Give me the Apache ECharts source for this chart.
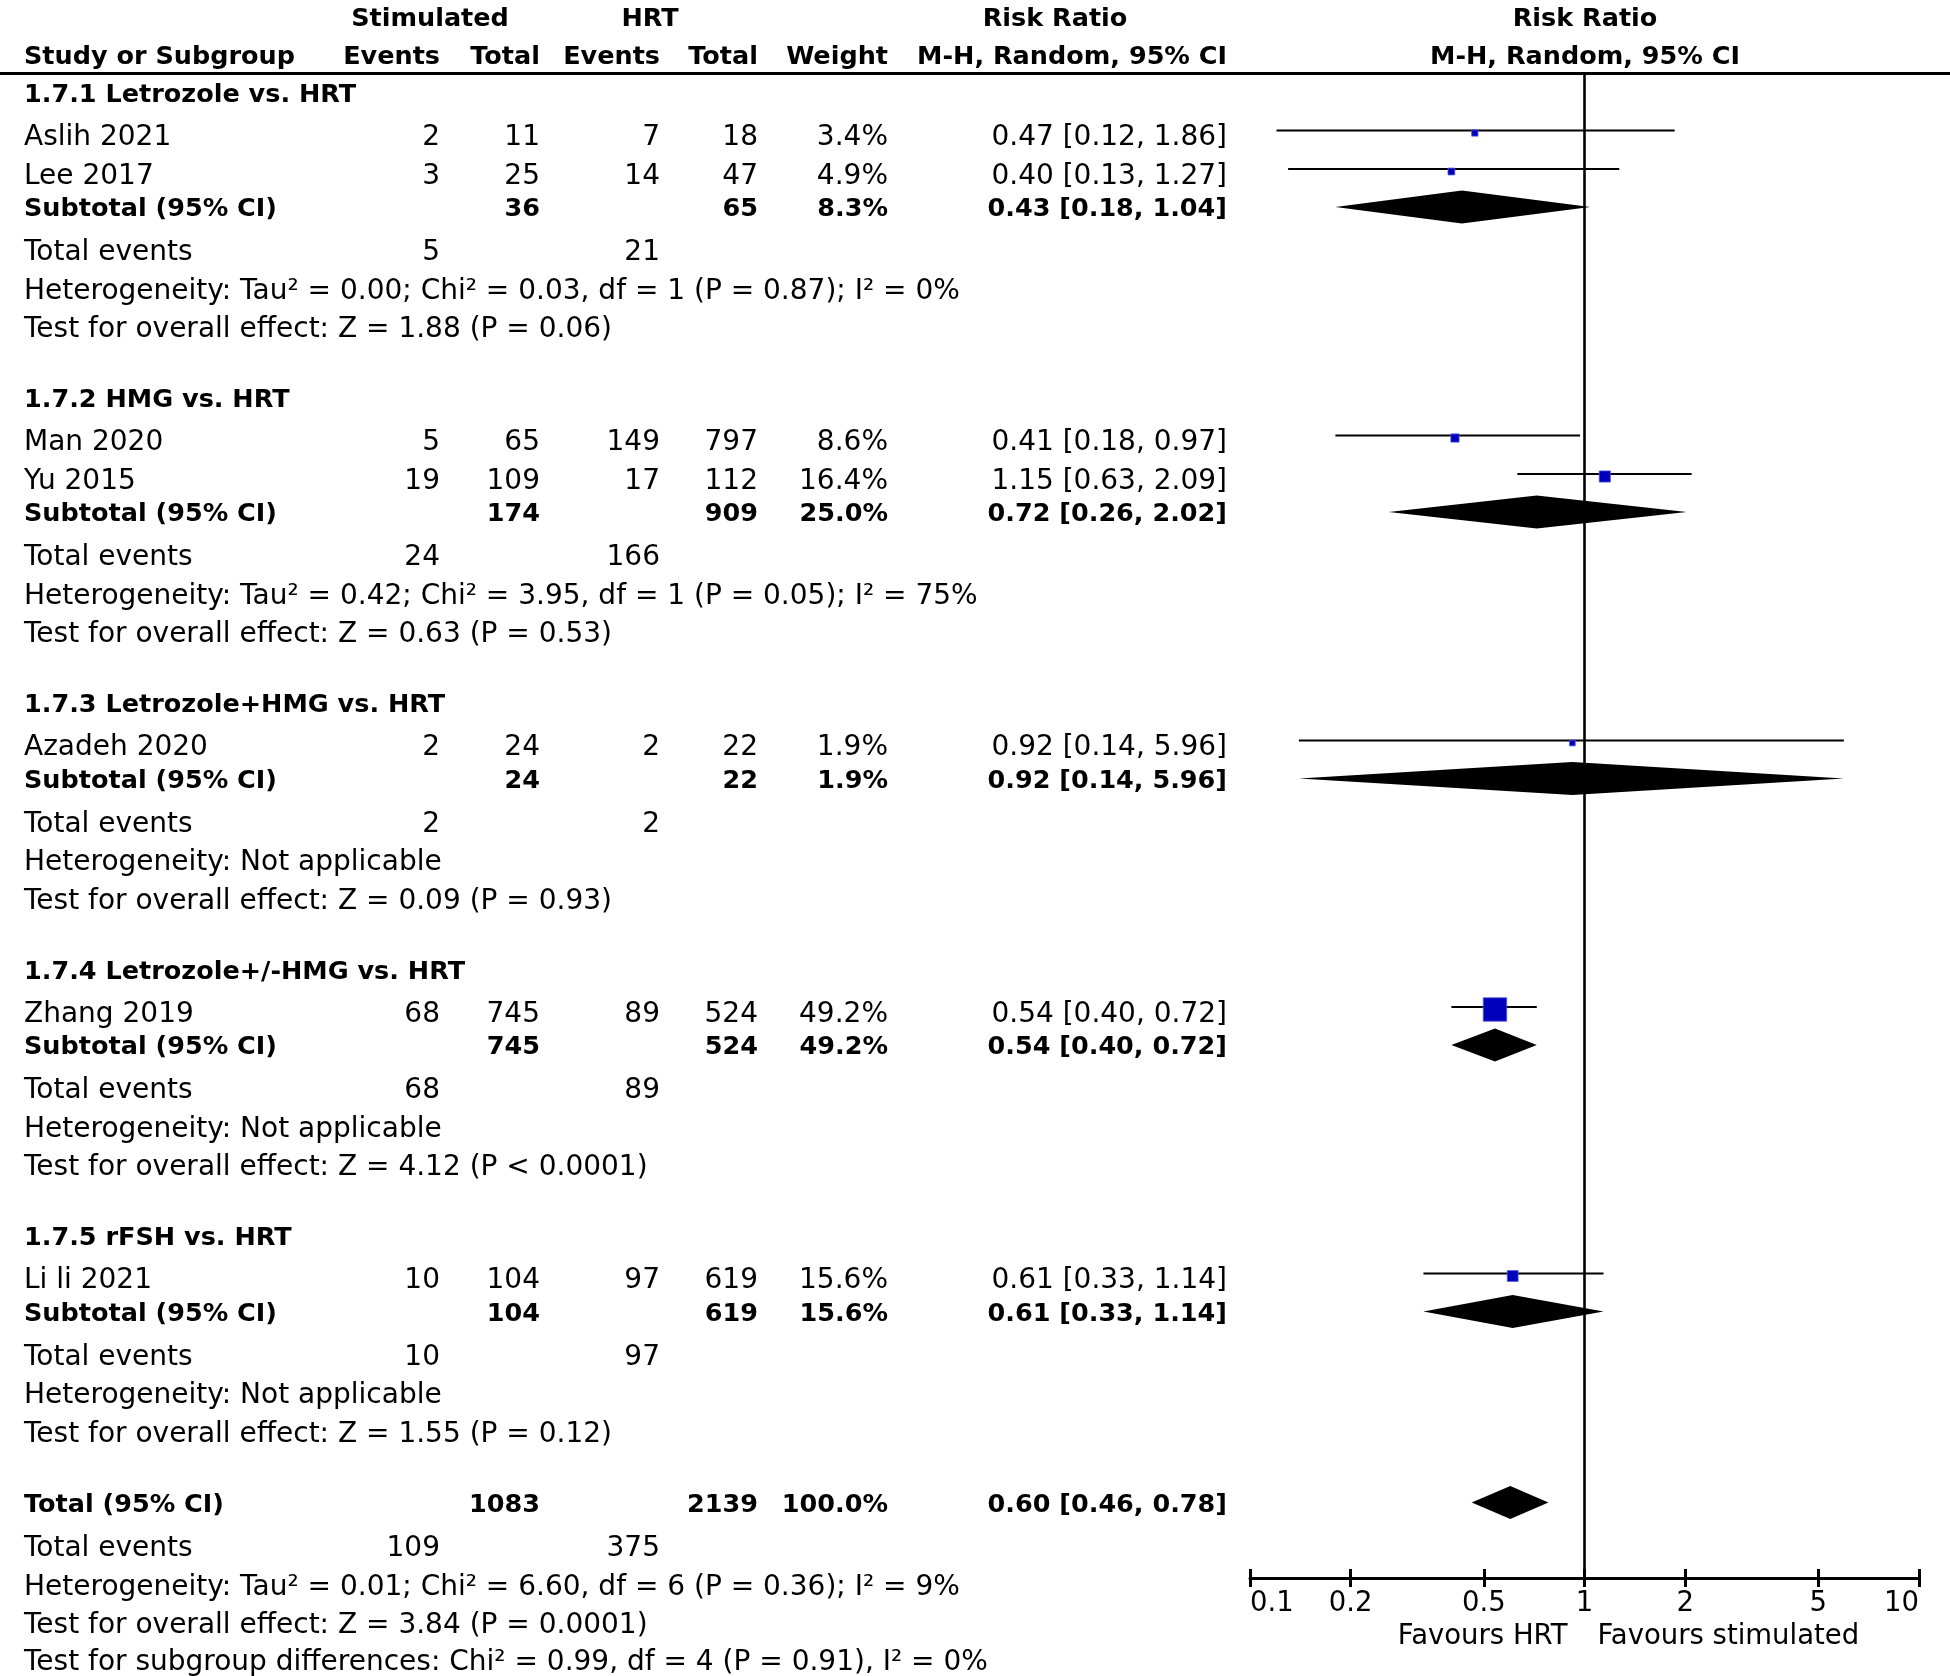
<!DOCTYPE html>
<html><head><meta charset="utf-8">
<script src="https://cdn.jsdelivr.net/npm/echarts@6/dist/echarts.min.js"></script>
<style>html,body{margin:0;padding:0;background:#fff}#c{width:1950px;height:1676px}</style>
</head><body><div id="c"></div>
<script>
// ---------------- DATA ----------------
const groupLabels = ['1.7.1 Letrozole vs. HRT', '1.7.2 HMG vs. HRT', '1.7.3 Letrozole+HMG vs. HRT', '1.7.4 Letrozole+/-HMG vs. HRT', '1.7.5 rFSH vs. HRT'];
const studyNames = ['Aslih 2021', 'Lee 2017', 'Man 2020', 'Yu 2015', 'Azadeh 2020', 'Zhang 2019', 'Li li 2021'];
const studyGroup = [0, 0, 1, 1, 2, 3, 4];
const stimEvents = [2, 3, 5, 19, 2, 68, 10];
const stimTotal = [11, 25, 65, 109, 24, 745, 104];
const hrtEvents = [7, 14, 149, 17, 2, 89, 97];
const hrtTotal = [18, 47, 797, 112, 22, 524, 619];
const studyWeight = [3.4, 4.9, 8.6, 16.4, 1.9, 49.2, 15.6];
const studyRR = [0.47, 0.40, 0.41, 1.15, 0.92, 0.54, 0.61];
const studyLow = [0.12, 0.13, 0.18, 0.63, 0.14, 0.40, 0.33];
const studyHigh = [1.86, 1.27, 0.97, 2.09, 5.96, 0.72, 1.14];

const subStimTotal = [36, 174, 24, 745, 104];
const subHrtTotal = [65, 909, 22, 524, 619];
const subWeight = [8.3, 25.0, 1.9, 49.2, 15.6];
const subRR = [0.43, 0.72, 0.92, 0.54, 0.61];
const subLow = [0.18, 0.26, 0.14, 0.40, 0.33];
const subHigh = [1.04, 2.02, 5.96, 0.72, 1.14];
const subStimEvents = [5, 24, 2, 68, 10];
const subHrtEvents = [21, 166, 2, 89, 97];
const subHeterogeneity = [
  'Tau² = 0.00; Chi² = 0.03, df = 1 (P = 0.87); I² = 0%',
  'Tau² = 0.42; Chi² = 3.95, df = 1 (P = 0.05); I² = 75%',
  'Not applicable', 'Not applicable', 'Not applicable'];
const subOverall = ['Z = 1.88 (P = 0.06)', 'Z = 0.63 (P = 0.53)', 'Z = 0.09 (P = 0.93)', 'Z = 4.12 (P < 0.0001)', 'Z = 1.55 (P = 0.12)'];

const totalStim = 1083, totalHrt = 2139, totalWeight = 100.0;
const totalRR = 0.60, totalLow = 0.46, totalHigh = 0.78;
const totalStimEvents = 109, totalHrtEvents = 375;
const totalHeterogeneity = 'Tau² = 0.01; Chi² = 6.60, df = 6 (P = 0.36); I² = 9%';
const totalOverall = 'Z = 3.84 (P = 0.0001)';
const subgroupDiff = 'Chi² = 0.99, df = 4 (P = 0.91), I² = 0%';

const axisTickValues = [0.1, 0.2, 0.5, 1, 2, 5, 10];
const favourLeft = 'Favours HRT', favourRight = 'Favours stimulated';

// ---------------- LAYOUT ----------------
const W = 1950, H = 1676;
const FONT = '"DejaVu Sans", sans-serif';
const FS = 28, FSB = 25.5, FST = 27.5;
const TEXT_DY = 2.5;       // text visual offset vs. row line
const CI_DY = -5;          // CI line offset vs. row line
const SQ_DY = -2.5;        // square offset vs. row line
const COL = { name: 24, se: 440, st: 540, he: 660, ht: 758, w: 888, rr: 1227 };
const HDR = { y1: 17, y2: 55, stim: 430, hrt: 650, rr1: 1055, rr2: 1585 };
const RULE_Y = 73.5;
const PLOT_L = 1250, PLOT_R = 1919, AXIS_Y = 1578;
const GAP = { headerFirst: 93, headerToStudy: 42.5, study: 38.5, toSub: 33, subToEvents: 43.5, line: 38.5, nextGroup: 70.5, totalToEvents: 44, last: 37 };

const texts = [];
const studyMarks = [];
const diamonds = [];
function T(x, y, text, align, bold) { texts.push({ x, y, text: String(text), align, bold: !!bold }); }
const pct = v => v.toFixed(1) + '%';
const ci = (r, l, h) => r.toFixed(2) + ' [' + l.toFixed(2) + ', ' + h.toFixed(2) + ']';

// header
T(HDR.stim, HDR.y1, 'Stimulated', 'center', true);
T(HDR.hrt, HDR.y1, 'HRT', 'center', true);
T(HDR.rr1, HDR.y1, 'Risk Ratio', 'center', true);
T(HDR.rr2, HDR.y1, 'Risk Ratio', 'center', true);
T(COL.name, HDR.y2, 'Study or Subgroup', 'left', true);
T(COL.se, HDR.y2, 'Events', 'right', true);
T(COL.st, HDR.y2, 'Total', 'right', true);
T(COL.he, HDR.y2, 'Events', 'right', true);
T(COL.ht, HDR.y2, 'Total', 'right', true);
T(COL.w, HDR.y2, 'Weight', 'right', true);
T(COL.rr, HDR.y2, 'M-H, Random, 95% CI', 'right', true);
T(HDR.rr2, HDR.y2, 'M-H, Random, 95% CI', 'center', true);

let y = GAP.headerFirst;
groupLabels.forEach((g, gi) => {
  T(COL.name, y, g, 'left', true);
  let first = true;
  studyNames.forEach((s, i) => {
    if (studyGroup[i] !== gi) return;
    y += first ? GAP.headerToStudy : GAP.study; first = false;
    T(COL.name, y, s, 'left');
    T(COL.se, y, stimEvents[i], 'right');
    T(COL.st, y, stimTotal[i], 'right');
    T(COL.he, y, hrtEvents[i], 'right');
    T(COL.ht, y, hrtTotal[i], 'right');
    T(COL.w, y, pct(studyWeight[i]), 'right');
    T(COL.rr, y, ci(studyRR[i], studyLow[i], studyHigh[i]), 'right');
    studyMarks.push({ i, y });
  });
  y += GAP.toSub;
  T(COL.name, y, 'Subtotal (95% CI)', 'left', true);
  T(COL.st, y, subStimTotal[gi], 'right', true);
  T(COL.ht, y, subHrtTotal[gi], 'right', true);
  T(COL.w, y, pct(subWeight[gi]), 'right', true);
  T(COL.rr, y, ci(subRR[gi], subLow[gi], subHigh[gi]), 'right', true);
  diamonds.push({ rr: subRR[gi], lo: subLow[gi], hi: subHigh[gi], y });
  y += GAP.subToEvents;
  T(COL.name, y, 'Total events', 'left');
  T(COL.se, y, subStimEvents[gi], 'right');
  T(COL.he, y, subHrtEvents[gi], 'right');
  y += GAP.line;
  T(COL.name, y, 'Heterogeneity: ' + subHeterogeneity[gi], 'left');
  y += GAP.line;
  T(COL.name, y, 'Test for overall effect: ' + subOverall[gi], 'left');
  y += GAP.nextGroup;
});
T(COL.name, y, 'Total (95% CI)', 'left', true);
T(COL.st, y, totalStim, 'right', true);
T(COL.ht, y, totalHrt, 'right', true);
T(COL.w, y, pct(totalWeight), 'right', true);
T(COL.rr, y, ci(totalRR, totalLow, totalHigh), 'right', true);
diamonds.push({ rr: totalRR, lo: totalLow, hi: totalHigh, y });
y += GAP.totalToEvents;
T(COL.name, y, 'Total events', 'left');
T(COL.se, y, totalStimEvents, 'right');
T(COL.he, y, totalHrtEvents, 'right');
y += GAP.line;
T(COL.name, y, 'Heterogeneity: ' + totalHeterogeneity, 'left');
y += GAP.line;
T(COL.name, y, 'Test for overall effect: ' + totalOverall, 'left');
y += GAP.last;
T(COL.name, y, 'Test for subgroup differences: ' + subgroupDiff, 'left');

const L = Math.log10;
const tickLogs = axisTickValues.map(L);
const squareSize = w => 5 + 0.375 * w;
const BLUE = '#0000bb';

const chart = echarts.init(document.getElementById('c'), null, { renderer: 'canvas' });
chart.setOption({
  animation: false,
  backgroundColor: '#fff',
  grid: [
    { left: 0, top: 0, width: W, height: H },
    { left: PLOT_L, width: PLOT_R - PLOT_L, top: 0, height: AXIS_Y }
  ],
  xAxis: [
    { gridIndex: 0, type: 'value', min: 0, max: W, show: false },
    {
      gridIndex: 1, type: 'value', min: -1, max: 1, position: 'bottom',
      splitLine: { show: false },
      axisLine: { show: true, onZero: false, lineStyle: { color: '#000', width: 3 } },
      axisTick: { show: true, customValues: tickLogs, length: 9, lineStyle: { color: '#000', width: 3 } },
      axisLabel: {
        show: true, customValues: tickLogs, margin: 12, color: '#000', fontSize: FST, fontFamily: FONT,
        alignMinLabel: 'left', alignMaxLabel: 'right',
        formatter: v => String(parseFloat(Math.pow(10, v).toPrecision(2)))
      }
    },
    {
      gridIndex: 1, type: 'value', min: -1, max: 1, position: 'bottom', offset: 0,
      splitLine: { show: false }, axisLine: { show: false, onZero: false }, axisLabel: { show: false },
      axisTick: { show: true, inside: true, customValues: tickLogs, length: 9, lineStyle: { color: '#000', width: 3 } }
    }
  ],
  yAxis: [
    { gridIndex: 0, type: 'value', min: 0, max: H, inverse: true, show: false },
    { gridIndex: 1, type: 'value', min: 0, max: AXIS_Y, inverse: true, show: false }
  ],
  series: [
    { // horizontal rule under header
      type: 'custom', xAxisIndex: 0, yAxisIndex: 0, silent: true, clip: false,
      data: [[0, W, RULE_Y]],
      renderItem: (p, api) => {
        const a = api.coord([api.value(0), api.value(2)]), b = api.coord([api.value(1), api.value(2)]);
        return { type: 'line', shape: { x1: a[0], y1: a[1], x2: b[0], y2: b[1] }, style: { stroke: '#000', lineWidth: 3 } };
      }
    },
    { // table text
      type: 'custom', xAxisIndex: 0, yAxisIndex: 0, silent: true, clip: false,
      data: texts.map(t => [t.x, t.y]),
      renderItem: (p, api) => {
        const t = texts[p.dataIndex];
        const c = api.coord([api.value(0), api.value(1)]);
        return { type: 'text', x: c[0], y: c[1] + TEXT_DY, style: { text: t.text, fill: '#000', align: t.align, verticalAlign: 'middle', font: (t.bold ? 'bold ' + FSB : FS) + 'px ' + FONT } };
      }
    },
    { // line of no effect
      type: 'custom', xAxisIndex: 1, yAxisIndex: 1, silent: true, clip: false,
      data: [[0, RULE_Y, AXIS_Y]],
      renderItem: (p, api) => {
        const a = api.coord([api.value(0), api.value(1)]), b = api.coord([api.value(0), api.value(2)]);
        return { type: 'line', shape: { x1: a[0], y1: a[1], x2: b[0], y2: b[1] }, style: { stroke: '#000', lineWidth: 2.6 } };
      }
    },
    { // study CIs and squares
      type: 'custom', xAxisIndex: 1, yAxisIndex: 1, silent: true, clip: false,
      data: studyMarks.map(m => [L(studyLow[m.i]), L(studyHigh[m.i]), L(studyRR[m.i]), m.y, studyWeight[m.i]]),
      renderItem: (p, api) => {
        const yv = api.value(3);
        const a = api.coord([api.value(0), yv]), b = api.coord([api.value(1), yv]), c = api.coord([api.value(2), yv]);
        const s = squareSize(api.value(4));
        return { type: 'group', children: [
          { type: 'line', shape: { x1: a[0], y1: a[1] + CI_DY, x2: b[0], y2: b[1] + CI_DY }, style: { stroke: '#000', lineWidth: 2 } },
          { type: 'rect', shape: { x: c[0] - s / 2, y: c[1] + SQ_DY - s / 2, width: s, height: s }, style: { fill: BLUE, stroke: '#5555dd', lineWidth: 0.8 } }
        ] };
      }
    },
    { // diamonds
      type: 'custom', xAxisIndex: 1, yAxisIndex: 1, silent: true, clip: false,
      data: diamonds.map(d => [L(d.lo), L(d.rr), L(d.hi), d.y]),
      renderItem: (p, api) => {
        const yv = api.value(3);
        const a = api.coord([api.value(0), yv]), m = api.coord([api.value(1), yv]), b = api.coord([api.value(2), yv]);
        const h = 16.5;
        return { type: 'polygon', shape: { points: [[a[0], a[1]], [m[0], m[1] - h], [b[0], b[1]], [m[0], m[1] + h]] }, style: { fill: '#000' } };
      }
    },
    { // favours labels
      type: 'custom', xAxisIndex: 1, yAxisIndex: 1, silent: true, clip: false,
      data: [[0, 1637]],
      renderItem: (p, api) => {
        const c = api.coord([api.value(0), api.value(1)]);
        return { type: 'group', children: [
          { type: 'text', x: c[0] - 17, y: c[1], style: { text: favourLeft, fill: '#000', align: 'right', verticalAlign: 'middle', font: FST + 'px ' + FONT } },
          { type: 'text', x: c[0] + 13, y: c[1], style: { text: favourRight, fill: '#000', align: 'left', verticalAlign: 'middle', font: FST + 'px ' + FONT } }
        ] };
      }
    }
  ]
});
</script>
</body></html>
